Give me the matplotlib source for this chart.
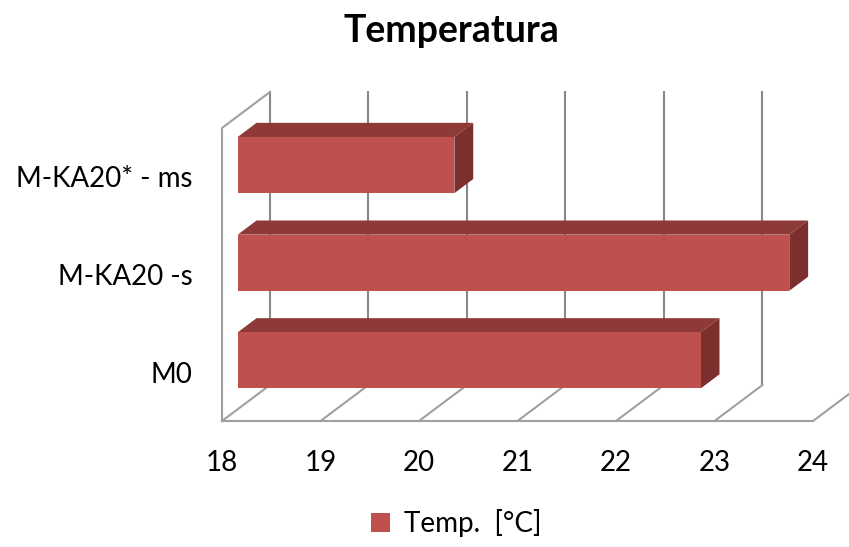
import matplotlib
matplotlib.use("Agg")
import matplotlib.pyplot as plt
from matplotlib.patches import Polygon, Patch

plt.rcParams['font.family'] = ['Lato', 'DejaVu Sans']

# Data
categories = ["M0", "M-KA20 -s", "M-KA20* - ms"]
temps = [22.7, 23.6, 20.2]
x_ticks = [18, 19, 20, 21, 22, 23, 24]
series_name = "Temp.  [°C]"
title = "Temperatura"

# 3D look: depth offset of the back plane, in data units
DX = 0.487          # value units
DY = 0.3685         # category units
D_FRONT, D_BACK = 0.327, 0.72   # bar depth span (fraction of full depth)
BAR_H = 0.575                    # bar height as fraction of category band

FRONT = "#C0504D"
TOP = "#8E3A38"
SIDE = "#7D2F2D"
WALL = "#888888"
FLOOR = "#A0A0A0"

XMIN, XMAX = x_ticks[0], x_ticks[-1]
YMIN, YMAX = -0.5, len(categories) - 0.5


def P(v, c, d):
    return (v + d * DX, c + d * DY)


fig = plt.figure(figsize=(8.49, 5.47), dpi=100)
W, H = 849, 547
ax = fig.add_axes([222 / W, (H - 421) / H, 591 / W, 293 / H])
ax.set_xlim(XMIN, XMAX)
ax.set_ylim(YMIN, YMAX)
for s in ax.spines.values():
    s.set_visible(False)

lw = 1.5
# back wall gridlines
for v in x_ticks:
    xs, ys = zip(P(v, YMIN, 1), P(v, YMAX, 1))
    ax.plot(xs, ys, color=WALL, lw=lw, clip_on=False, zorder=1)
# floor gridlines
for v in x_ticks:
    xs, ys = zip(P(v, YMIN, 0), P(v, YMIN, 1))
    ax.plot(xs, ys, color=FLOOR, lw=lw, clip_on=False, zorder=1)
# floor front edge
xs, ys = zip(P(XMIN, YMIN, 0), P(XMAX, YMIN, 0))
ax.plot(xs, ys, color=FLOOR, lw=lw, clip_on=False, zorder=1)
# left wall front edge and top edge
xs, ys = zip(P(XMIN, YMIN, 0), P(XMIN, YMAX, 0), P(XMIN, YMAX, 1))
ax.plot(xs, ys, color=FLOOR, lw=lw, clip_on=False, zorder=1)

# bars
for i, val in enumerate(temps):
    c0, c1 = i - BAR_H / 2, i + BAR_H / 2
    front = Polygon([P(XMIN, c0, D_FRONT), P(val, c0, D_FRONT),
                     P(val, c1, D_FRONT), P(XMIN, c1, D_FRONT)],
                    closed=True, facecolor=FRONT, edgecolor="none",
                    clip_on=False, zorder=5)
    top = Polygon([P(XMIN, c1, D_FRONT), P(val, c1, D_FRONT),
                   P(val, c1, D_BACK), P(XMIN, c1, D_BACK)],
                  closed=True, facecolor=TOP, edgecolor="none",
                  clip_on=False, zorder=4)
    side = Polygon([P(val, c0, D_FRONT), P(val, c1, D_FRONT),
                    P(val, c1, D_BACK), P(val, c0, D_BACK)],
                   closed=True, facecolor=SIDE, edgecolor="none",
                   clip_on=False, zorder=4)
    for p in (top, side, front):
        ax.add_patch(p)

ax.set_xticks(x_ticks)
ax.set_xticklabels([str(t) for t in x_ticks])
ax.set_yticks(range(len(categories)))
ax.set_yticklabels(categories)
ax.tick_params(axis="x", length=0, pad=21, labelsize=20)
ax.tick_params(axis="y", length=0, pad=21, labelsize=20)

fig.text(451 / W, 1 - 31 / H, title, ha="center", va="center",
         fontsize=27, fontweight="bold")

fig.legend(handles=[Patch(facecolor=FRONT, edgecolor="none", label=series_name)],
           loc="center", bbox_to_anchor=(456 / W, 1 - 523 / H), frameon=False,
           fontsize=20, handlelength=0.7, handleheight=0.7, handletextpad=0.5)

fig.savefig("out.png", dpi=100)
